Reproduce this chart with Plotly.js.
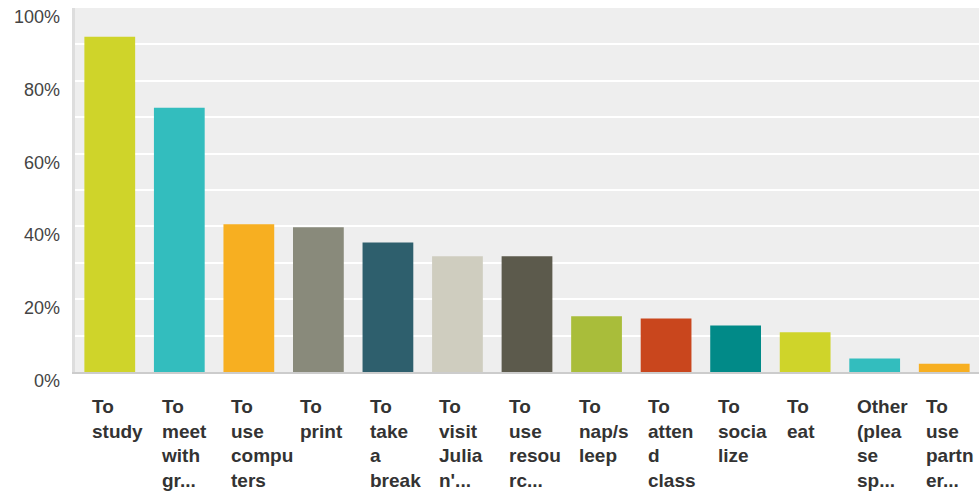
<!DOCTYPE html>
<html>
<head>
<meta charset="utf-8">
<script src="https://cdn.plot.ly/plotly-3.0.1.min.js"></script>
<style>html,body{margin:0;padding:0;background:#fff;}#chart{width:979px;height:491px;}</style>
</head>
<body>
<div id="chart"></div>
<script>
const categories = ["To study","To meet with gr...","To use computers","To print","To take a break","To visit Julian'...","To use resourc...","To nap/sleep","To attend class","To socialize","To eat","Other (please sp...","To use partner..."];
const tickLabels = ["To<br>study","To<br>meet<br>with<br>gr...","To<br>use<br>compu<br>ters","To<br>print","To<br>take<br>a<br>break","To<br>visit<br>Julia<br>n'...","To<br>use<br>resou<br>rc...","To<br>nap/s<br>leep","To<br>atten<br>d<br>class","To<br>socia<br>lize","To<br>eat","Other<br>(plea<br>se<br>sp...","To<br>use<br>partn<br>er..."];
const values = [92.1, 72.6, 40.6, 39.8, 35.6, 31.8, 31.8, 15.3, 14.7, 12.8, 10.9, 3.7, 2.3];
const colors = ["#cfd42a","#33bdbe","#f7af21","#898a7b","#2e5f6d","#cfcdbf","#5c5a4c","#a9bd3a","#c9461d","#018a88","#cfd42a","#33bdbe","#f7af21"];
const yTickVals = [0, 20, 40, 60, 80, 100];
const yTickText = ["0%","20%","40%","60%","80%","100%"];

const annotations = [];
categories.forEach((c, i) => {
  annotations.push({
    x: c, xref: 'x', y: 0, yref: 'paper', yshift: -22,
    xanchor: 'left', yanchor: 'top', xshift: -20, align: 'left',
    text: '<b>' + tickLabels[i] + '</b>', showarrow: false,
    font: {family: 'Liberation Sans, Arial, sans-serif', size: 19, color: '#333333'}
  });
});
yTickVals.forEach((v, i) => {
  annotations.push({
    x: 0, xref: 'paper', y: v, yref: 'y', xanchor: 'right', yanchor: 'middle',
    xshift: -13, yshift: -9, text: yTickText[i], showarrow: false,
    font: {family: 'Liberation Sans, Arial, sans-serif', size: 18, color: '#444444'}
  });
});

const data = [{
  type: 'bar', x: categories, y: values,
  marker: {color: colors, line: {width: 0}},
  hoverinfo: 'none'
}];

const layout = {
  width: 979, height: 491,
  margin: {l: 75, r: 0, t: 8, b: 119, pad: 0},
  paper_bgcolor: '#ffffff', plot_bgcolor: '#eeeeee',
  bargap: 0.27,
  showlegend: false,
  xaxis: {showticklabels: false, showgrid: false, zeroline: false, showline: true,
          linecolor: '#cccccc', linewidth: 2, ticks: '', fixedrange: true},
  yaxis: {range: [0, 100], dtick: 10, showticklabels: false, showgrid: true,
          gridcolor: '#ffffff', gridwidth: 2, zeroline: false, showline: true,
          linecolor: '#dddddd', linewidth: 3, ticks: '', fixedrange: true},
  annotations: annotations
};

Plotly.newPlot('chart', data, layout, {displayModeBar: false, staticPlot: true});
</script>
</body>
</html>
